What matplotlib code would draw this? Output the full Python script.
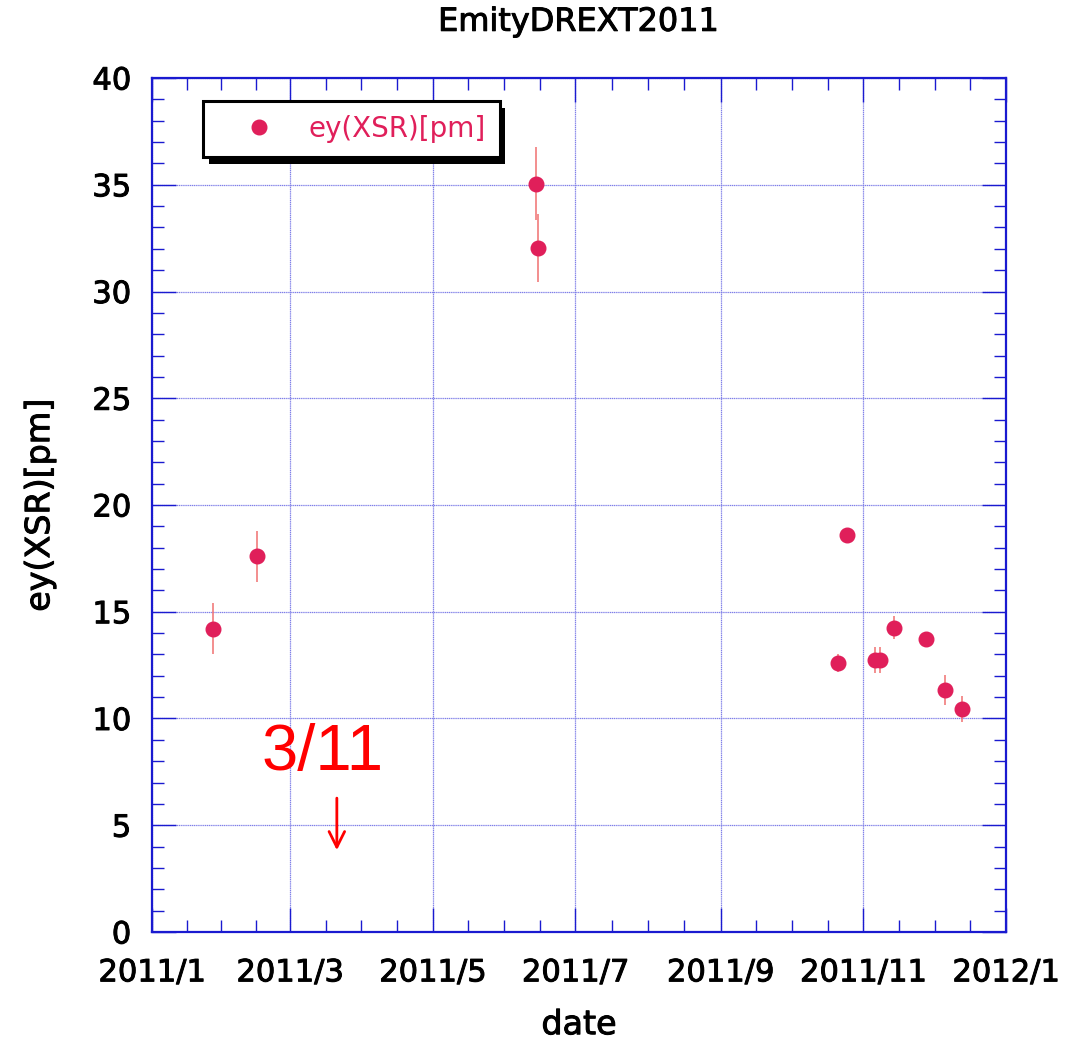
import datetime as dt
import matplotlib
matplotlib.use("Agg")
import matplotlib.pyplot as plt
import matplotlib.dates as mdates
import matplotlib.patheffects as pe

# measurement dates and vertical emittance (XSR monitor)
dates = ["2011-01-27", "2011-02-15", "2011-06-14", "2011-06-15",
         "2011-10-21", "2011-10-25", "2011-11-06", "2011-11-08",
         "2011-11-14", "2011-11-28", "2011-12-06", "2011-12-13"]
ey = [14.2, 17.6, 35.05, 32.05, 12.6, 18.6, 12.75, 12.75, 14.25, 13.7, 11.35, 10.45]
ey_err = [1.2, 1.2, 1.7, 1.6, 0.4, 0.15, 0.6, 0.6, 0.55, 0.2, 0.7, 0.62]

major_dates = ["2011-01-01", "2011-03-01", "2011-05-01", "2011-07-01",
               "2011-09-01", "2011-11-01", "2012-01-01"]
major_labels = ["2011/1", "2011/3", "2011/5", "2011/7", "2011/9", "2011/11", "2012/1"]

quake_label = "3/11"
quake_text_date = "2011-03-15"
quake_arrow_date = "2011-03-21"

BLUE = "#1a1ad0"
GRID = "#8080e8"
DOT = "#e01f5a"
ERR = "#f07070"

# slightly heavier text, like the original's medium-weight font
bold = [pe.withStroke(linewidth=0.7, foreground="black")]

x = [dt.datetime.fromisoformat(d) for d in dates]
xmaj = [mdates.date2num(dt.datetime.fromisoformat(d)) for d in major_dates]
xmin = []
for a, b in zip(xmaj[:-1], xmaj[1:]):
    xmin += [a + (b - a) * k / 4 for k in (1, 2, 3)]

fig = plt.figure(figsize=(10.66, 10.42), dpi=100)
ax = fig.add_axes([0.1426, 0.1056, 0.8011, 0.8195])

ax.errorbar(x, ey, yerr=ey_err, fmt="none", ecolor=ERR, elinewidth=1.1, zorder=3)
ax.plot(x, ey, "o", color=DOT, markersize=10.5, label="ey(XSR)[pm]", zorder=4)

ax.set_xlim(xmaj[0], xmaj[-1])
ax.set_ylim(0, 40)
ax.set_xticks(xmaj)
ax.set_xticklabels(major_labels)
ax.set_xticks(xmin, minor=True)
ax.set_yticks(range(0, 41, 5))
ax.set_yticks(range(0, 41, 1), minor=True)

ax.grid(True, which="major", color=GRID, linewidth=0.9, linestyle=(0, (1, 0.5)))
for s in ax.spines.values():
    s.set_color(BLUE)
    s.set_linewidth(1.6)
ax.tick_params(which="both", direction="in", top=True, right=True, color=BLUE,
               labelsize=22, width=1.0)
ax.tick_params(which="major", length=17)
ax.tick_params(which="minor", length=8.5)
ax.tick_params(axis="x", pad=19)
ax.tick_params(axis="y", pad=15)
for lab in ax.get_xticklabels() + ax.get_yticklabels():
    lab.set_path_effects(bold)

ax.set_xlabel("date", fontsize=24, labelpad=15, path_effects=bold)
ax.set_ylabel("ey(XSR)[pm]", fontsize=24, labelpad=26, path_effects=bold)
ax.set_title("EmityDREXT2011", fontsize=23, pad=34, path_effects=bold)

# earthquake marker
ax.text(dt.datetime.fromisoformat(quake_text_date), 7.6, quake_label, color="red",
        fontsize=47, family="Liberation Sans", ha="center", va="baseline")
ax.annotate("", xy=(dt.datetime.fromisoformat(quake_arrow_date), 3.7),
            xytext=(dt.datetime.fromisoformat(quake_arrow_date), 6.4),
            arrowprops=dict(arrowstyle="->", color="red", lw=2, mutation_scale=28))

leg = ax.legend(loc="upper left", bbox_to_anchor=(0.0597, 0.973), fontsize=20,
                frameon=True, fancybox=False, borderpad=0.5, handlelength=3.0,
                handletextpad=0.3, borderaxespad=0, labelcolor=DOT)
frame = leg.get_frame()
frame.set_edgecolor("black")
frame.set_linewidth(2.2)
frame.set_alpha(1)
frame.set_path_effects([pe.SimplePatchShadow(offset=(4, -5), shadow_rgbFace="black", alpha=1),
                        pe.Normal()])

fig.savefig("out.png", dpi=100)
